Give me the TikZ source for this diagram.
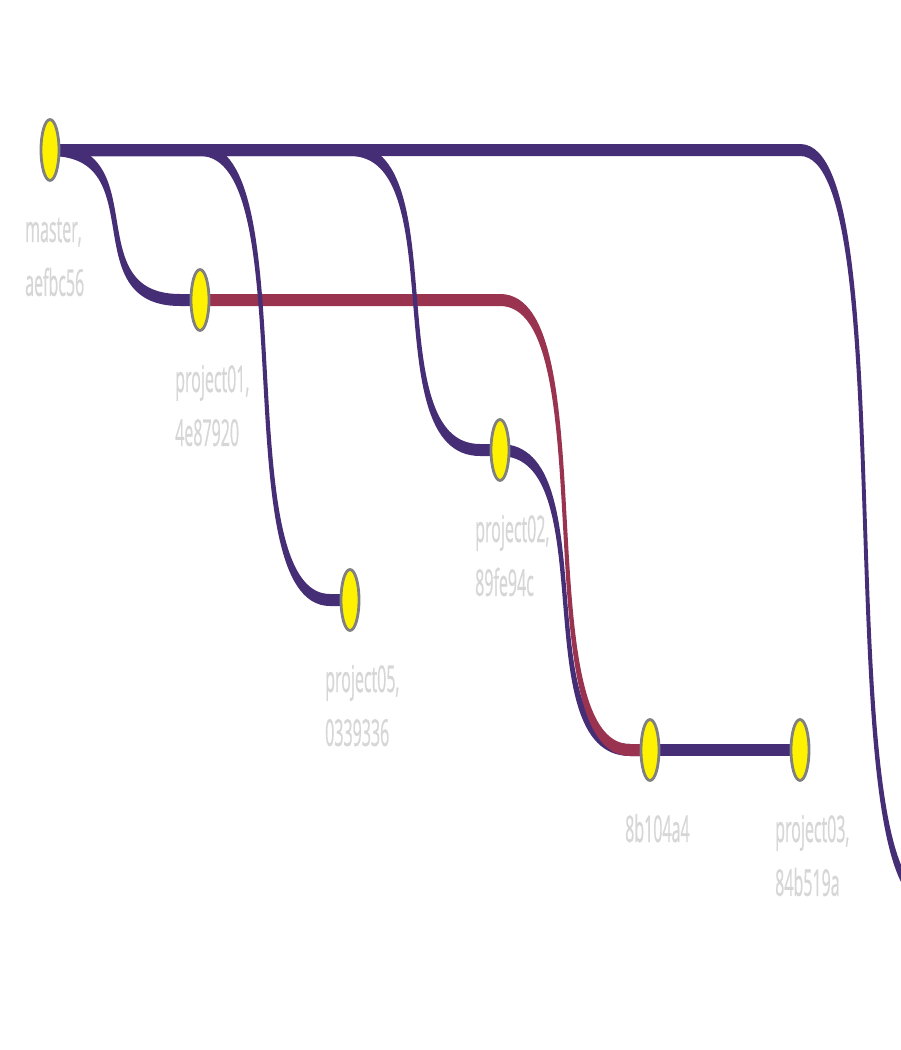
\documentclass[tikz,border=0pt]{standalone}
\usepackage{fontspec}
\usetikzlibrary{calc,backgrounds,shapes.geometric}
\newfontfamily\lblfont[FakeBold=1]{Open Sans}
\definecolor{branchblue}{RGB}{70,46,118}
\definecolor{branchred}{RGB}{153,51,80}
\definecolor{lblgray}{RGB}{214,214,214}
\tikzset{
  commit/.style={ellipse, draw=gray, fill=yellow, line width=2.8pt, inner sep=0pt,
    minimum width=18pt, minimum height=61pt},
  commitlbl/.style={anchor=base west, inner sep=0pt, text=lblgray,
    font=\lblfont\fontsize{16}{23.4}\selectfont},
  ribbon/.style={line width=3.6pt, line join=round}
}
\newcommand\lbltext[1]{\scalebox{1}[2.3]{\begin{tabular}[t]{@{}l@{}}#1\end{tabular}}}
% ribbon from parent (#2) to child (#3): flat run, S-bend, short flat run
\def\branchedge[#1](#2)(#3){\filldraw[ribbon,#1] let \p1=(#2.center), \p2=(#3.center) in
  (\x1,\y1+4.2pt) -- (\x2-150pt,\y1+4.2pt)
  .. controls (\x2-45pt,\y1+4.2pt) and (\x2-125pt,\y2+4.2pt) .. (\x2-20pt,\y2+4.2pt)
  -- (\x2,\y2+4.2pt) -- (\x2,\y2-4.2pt) -- (\x2-20pt,\y2-4.2pt)
  .. controls (\x2-125pt,\y2-4.2pt) and (\x2-45pt,\y1-4.2pt) .. (\x2-150pt,\y1-4.2pt)
  -- (\x1,\y1-4.2pt) -- cycle;}

\begin{document}
\begin{tikzpicture}[x=1pt, y=-1pt]
	%%%%% START %%%%%
	\useasboundingbox (0, 0) rectangle (900, 1050);
	
	% commits
	\node[commit] (master) at (50, 150) {};
	\node[commit] (p01) at (200, 300) {};
	\node[commit] (p05) at (350, 600) {};
	\node[commit] (p02) at (500, 450) {};
	\node[commit] (m8b) at (650, 750) {};
	\node[commit] (p03) at (800, 750) {};
	\coordinate (next) at (950, 900);
	
	% labels
	\node[commitlbl] (lmaster) at (25, 242) {\lbltext{master,\\aefbc56}};
	\node[commitlbl] (lp01) at (175, 392) {\lbltext{project01,\\4e87920}};
	\node[commitlbl] (lp05) at (325, 692) {\lbltext{project05,\\0339336}};
	\node[commitlbl] (lp02) at (475, 542) {\lbltext{project02,\\89fe94c}};
	\node[commitlbl] (lm8b) at (625, 842) {\lbltext{8b104a4}};
	\node[commitlbl] (lp03) at (775, 842) {\lbltext{project03,\\84b519a}};
	
	% edges
	\begin{scope}[on background layer]
		\branchedge[branchblue](p02)(m8b)
		\branchedge[branchred](p01)(m8b)
		\branchedge[branchblue](master)(p01)
		\branchedge[branchblue](master)(p05)
		\branchedge[branchblue](master)(p02)
		\branchedge[branchblue](master)(next)
		\branchedge[branchblue](m8b)(p03)
	\end{scope}
	%%%%% END %%%%%
\end{tikzpicture}
\end{document}
